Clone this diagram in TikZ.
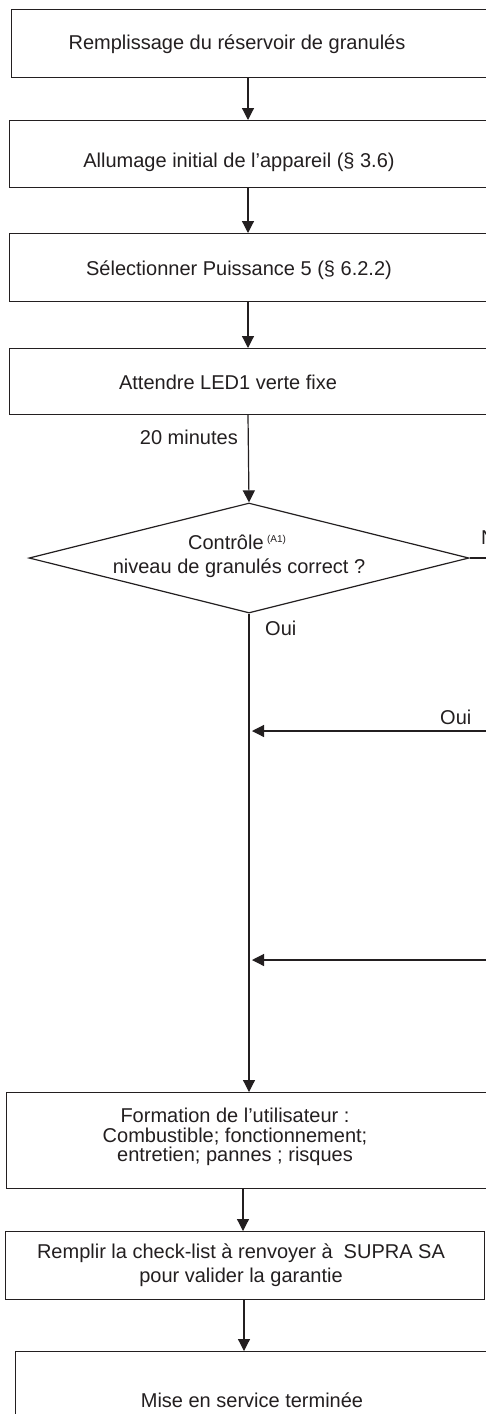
\documentclass[tikz,border=0pt]{standalone}
\usepackage{fontspec}
\setmainfont{Liberation Sans}
\usetikzlibrary{arrows.meta,shapes.geometric}
\definecolor{ink}{HTML}{231F20}
\begin{document}
\begin{tikzpicture}[x=1pt,y=-1pt,
  box/.style={draw=ink,line width=1.2pt,rectangle,anchor=north west,inner sep=0pt},
  txt/.style={text=ink,font=\fontsize{20}{20}\selectfont,align=center,inner sep=0pt},
  lbl/.style={text=ink,font=\fontsize{20}{20}\selectfont,inner sep=0pt},
  arr/.style={draw=ink,line width=1.2pt,-{Triangle[length=12pt,width=12pt]}},
  conn/.style={draw=ink,line width=1.2pt}]
\clip (0,0) rectangle (486,1414);
\fill[white] (0,0) rectangle (486,1414);
% boxes
\node[box,minimum width=500pt,minimum height=68pt] (b1) at (11,9) {};
\node[box,minimum width=500pt,minimum height=67pt] (b2) at (9,120) {};
\node[box,minimum width=500pt,minimum height=68pt] (b3) at (9,233) {};
\node[box,minimum width=500pt,minimum height=66pt] (b4) at (9,348) {};
\node[draw=ink,line width=1.2pt,diamond,minimum width=440pt,minimum height=110pt,inner sep=0pt] (d) at (249,558) {};
\node[box,minimum width=500pt,minimum height=96pt] (b5) at (6,1092) {};
\node[box,minimum width=479pt,minimum height=68pt] (b6) at (5,1231) {};
\node[box,minimum width=500pt,minimum height=100pt] (b7) at (15,1351) {};
% texts
\node[txt] (t1) at (237,44) {Remplissage du réservoir de granulés};
\node[txt] (t2) at (239,162) {Allumage initial de l’appareil (§ 3.6)};
\node[txt] (t3) at (239,270) {Sélectionner Puissance 5 (§ 6.2.2)};
\node[txt] (t4) at (228,382) {Attendre LED1 verte fixe};
\node[lbl,anchor=east] (l20) at (238,437) {20 minutes};
\node[txt] (td1) at (237,542) {Contrôle\,\raisebox{7pt}{\fontsize{10}{10}\selectfont (A1)}};
\node[txt] (td2) at (239,568) {niveau de granulés correct ?};
\node[lbl,anchor=west] (ln) at (481,538) {N};
\node[lbl,anchor=west] (lo1) at (265,628) {Oui};
\node[lbl,anchor=west] (lo2) at (440,717) {Oui};
\node[txt,font=\fontsize{20}{19.5}\selectfont] (t5) at (235,1137) {Formation de l’utilisateur :\\Combustible; fonctionnement;\\entretien; pannes ; risques};
\node[txt,font=\fontsize{20}{24}\selectfont] (t6) at (241,1265) {Remplir la check-list à renvoyer à\ \ SUPRA SA\\pour valider la garantie};
\node[txt] (t7) at (252,1400) {Mise en service terminée};
% connectors
\coordinate (ca) at (248,0);
\coordinate (cb) at (243,0);
\coordinate (cc) at (244,0);
\coordinate (r0) at (490,558);
\coordinate (r1) at (490,731);
\coordinate (r2) at (490,960);
\draw[arr] (b1.south -| ca) -- (b2.north -| ca);
\draw[arr] (b2.south -| ca) -- (b3.north -| ca);
\draw[arr] (b3.south -| ca) -- (b4.north -| ca);
\draw[arr] (b4.south -| ca) -- (d.north);
\draw[arr] (d.south) -- (b5.north -| d.south);
\draw[conn] (d.east) -- (r0);
\draw[arr,shorten >=3pt] (r1) -- (r1 -| d.south);
\draw[arr,shorten >=3pt] (r2) -- (r2 -| d.south);
\draw[arr] (b5.south -| cb) -- (b6.north -| cb);
\draw[arr] (b6.south -| cc) -- (b7.north -| cc);
\end{tikzpicture}
\end{document}
